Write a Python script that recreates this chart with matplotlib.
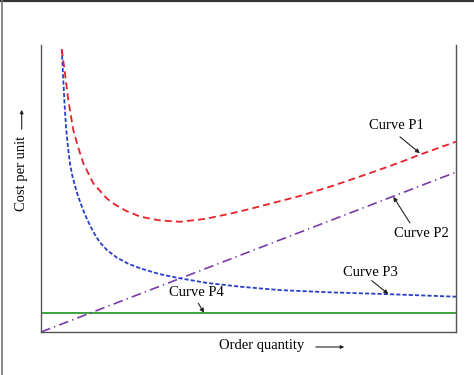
import matplotlib
matplotlib.use("Agg")
import matplotlib.pyplot as plt
from matplotlib.lines import Line2D

plt.rcParams['font.family'] = ['Liberation Serif', 'DejaVu Serif']
plt.rcParams['lines.scale_dashes'] = False

# Curve P1 (total cost, red dashed)
p1_x = [5.0, 5.78, 6.58, 7.78, 8.9, 10.19, 12.6, 15.8, 17.4, 20.5, 23.9, 28.5, 33.5, 39.5, 45.5, 50.4, 57.6, 62.4, 69.6, 74.5, 80.5, 86.5, 91.3, 100.0]
p1_y = [98.5, 90.1, 80.8, 70.4, 64.6, 58.8, 51.8, 46.6, 44.8, 42.2, 40.2, 38.9, 38.4, 39.4, 41.2, 42.9, 45.6, 47.4, 50.6, 53.0, 56.0, 59.1, 61.8, 66.3]
# Curve P2 (linear, purple dash-dot)
p2_x = [0.0, 100.0]
p2_y = [0.0, 55.7]
# Curve P3 (decreasing, blue dashed)
p3_x = [5.0, 5.3, 5.65, 6.05, 6.58, 7.0, 7.54, 8.2, 8.84, 9.5, 10.19, 11.0, 12.0, 13.0, 14.2, 16.0, 18.2, 21.0, 23.9, 28.5, 33.5, 40.0, 47.9, 57.6, 70.0, 83.3, 100.0]
p3_y = [98.5, 90.0, 80.0, 71.0, 63.4, 58.5, 54.5, 50.8, 47.8, 45.0, 42.4, 39.6, 36.6, 33.9, 31.2, 28.4, 26.0, 23.8, 22.2, 20.2, 18.7, 17.1, 15.8, 14.6, 13.8, 13.2, 12.3]
# Curve P4 (constant, green)
p4_x = [0.0, 100.0]
p4_y = [6.6, 6.6]

labels = ["Curve P1", "Curve P2", "Curve P3", "Curve P4"]
label_pos = [(85.7, 71.8), (91.7, 34.4), (79.3, 20.7), (37.5, 13.7)]
arrow_from = [(86.5, 68.0), (88.9, 38.0), (79.7, 17.9), (37.9, 10.0)]
arrow_to = [(91.3, 62.3), (84.9, 47.1), (83.7, 13.2), (39.3, 6.7)]

W, H = 474, 375
fig = plt.figure(figsize=(W / 100, H / 100), dpi=100)
ax = fig.add_axes([41 / W, 1 - 332 / H, 415 / W, 287 / H])

ax.plot(p4_x, p4_y, color='#2e9a2e', lw=1.3, solid_capstyle='butt')
ax.plot(p2_x, p2_y, color='#7a3aa8', lw=1.2, dashes=(7, 3, 1, 3))
ax.plot(p3_x, p3_y, color='#2a3fc8', lw=1.3, dashes=(3, 1.5))
ax.plot(p1_x, p1_y, color='#e8202a', lw=1.3, dashes=(5, 3))

for lab, tp, af, at in zip(labels, label_pos, arrow_from, arrow_to):
    ax.text(tp[0], tp[1], lab, ha='center', va='center', fontsize=10.5)
    ax.annotate('', xy=at, xytext=af,
                arrowprops=dict(arrowstyle='-|>', color='#222222', lw=0.8,
                                mutation_scale=6, shrinkA=0, shrinkB=0))

ax.set_xlim(0, 100)
ax.set_ylim(0, 100)
ax.set_xticks([])
ax.set_yticks([])
ax.spines['top'].set_visible(False)
for s in ['left', 'right', 'bottom']:
    ax.spines[s].set_color('#555555')
    ax.spines[s].set_linewidth(1.0)

# axis labels with arrows
fig.text(262 / W, 1 - 346 / H, "Order quantity", ha='center', va='center', fontsize=10.5)
fig.add_artist(matplotlib.patches.FancyArrowPatch(
    (313 / W, 1 - 347 / H), (347 / W, 1 - 347 / H), transform=fig.transFigure,
    arrowstyle='-|>', mutation_scale=5, color='#222222', lw=0.8))
fig.text(21.7 / W, 1 - 173 / H, "Cost per unit", ha='center', va='center',
         rotation=90, fontsize=10.5)
fig.add_artist(matplotlib.patches.FancyArrowPatch(
    (21.7 / W, 1 - 132 / H), (21.7 / W, 1 - 107 / H), transform=fig.transFigure,
    arrowstyle='-|>', mutation_scale=5, color='#222222', lw=0.8))

# screenshot frame lines (top and left)
fig.add_artist(Line2D([0, 1], [1 - 1 / H, 1 - 1 / H], transform=fig.transFigure,
                      color='#333333', lw=1.6))
fig.add_artist(Line2D([1.5 / W, 1.5 / W], [0, 1], transform=fig.transFigure,
                      color='#777777', lw=1.2))

fig.savefig("out.png", dpi=100)
